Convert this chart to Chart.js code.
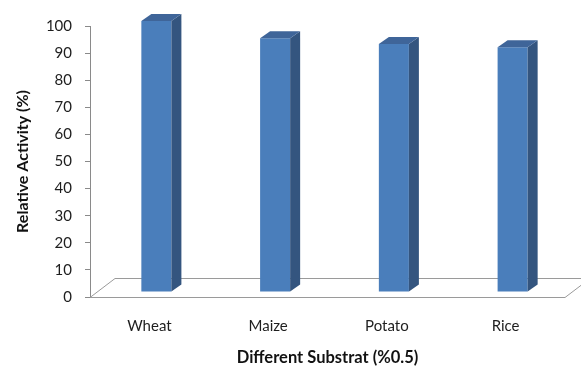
<!DOCTYPE html>
<html>
<head>
<meta charset="utf-8">
<script src="https://cdn.jsdelivr.net/npm/chart.js@4/dist/chart.umd.min.js"></script>
<style>
  html, body { margin: 0; padding: 0; background: #ffffff; }
  #wrap { width: 581px; height: 372px; }
</style>
</head>
<body>
<div id="wrap"><canvas id="chart" width="581" height="372"></canvas></div>
<script>
// Substrates tested and their relative enzyme activity
const substrates = ['Wheat', 'Maize', 'Potato', 'Rice'];
const relativeActivity = [100, 93.6, 91.5, 90.3];
const yTicks = [0, 10, 20, 30, 40, 50, 60, 70, 80, 90, 100];
const xTitle = 'Different Substrat (%0.5)';
const yTitle = 'Relative Activity (%)';

// Pseudo-3D look: columns stand inside the floor slab, faces get an oblique depth
const DEPTH = { dx: 10, dy: -7 };        // column depth
const INSET = { dx: 7, dy: -5 };         // column offset from the floor front edge
const FLOOR = { dx: 25, dy: -19 };       // floor depth
const COLORS = { front: '#4A7EBB', side: '#34557F', top: '#3F6599', floor: '#9a9a9a' };

const floorPlugin = {
  id: 'floor3d',
  beforeDatasetsDraw(chart) {
    const { ctx, chartArea, scales } = chart;
    const y0 = scales.y.getPixelForValue(0);
    const l = chartArea.left, r = chartArea.right;
    ctx.save();
    ctx.strokeStyle = COLORS.floor;
    ctx.lineWidth = 1;
    ctx.beginPath();
    ctx.moveTo(l, y0 + 0.5);
    ctx.lineTo(r, y0 + 0.5);
    ctx.lineTo(r + FLOOR.dx, y0 + FLOOR.dy + 0.5);
    ctx.lineTo(l + FLOOR.dx, y0 + FLOOR.dy + 0.5);
    ctx.closePath();
    ctx.stroke();
    ctx.restore();
    // shift the front faces back into the floor depth
    ctx.save();
    ctx.translate(INSET.dx, INSET.dy);
  },
  afterDatasetsDraw(chart) {
    const { ctx } = chart;
    ctx.restore();
    const meta = chart.getDatasetMeta(0);
    ctx.save();
    ctx.translate(INSET.dx, INSET.dy);
    meta.data.forEach((bar) => {
      const p = bar.getProps(['x', 'y', 'base', 'width'], true);
      const left = p.x - p.width / 2, right = p.x + p.width / 2;
      const top = p.y, bottom = p.base;
      // side face
      ctx.fillStyle = COLORS.side;
      ctx.beginPath();
      ctx.moveTo(right, top);
      ctx.lineTo(right + DEPTH.dx, top + DEPTH.dy);
      ctx.lineTo(right + DEPTH.dx, bottom + DEPTH.dy);
      ctx.lineTo(right, bottom);
      ctx.closePath();
      ctx.fill();
      // top face
      ctx.fillStyle = COLORS.top;
      ctx.beginPath();
      ctx.moveTo(left, top);
      ctx.lineTo(left + DEPTH.dx, top + DEPTH.dy);
      ctx.lineTo(right + DEPTH.dx, top + DEPTH.dy);
      ctx.lineTo(right, top);
      ctx.closePath();
      ctx.fill();
    });
    ctx.restore();
  }
};

const FONT = "Lato, 'Liberation Sans', sans-serif";

new Chart(document.getElementById('chart'), {
  type: 'bar',
  data: {
    labels: substrates,
    datasets: [{
      data: relativeActivity,
      backgroundColor: COLORS.front,
      borderWidth: 0,
      categoryPercentage: 1,
      barPercentage: 0.253
    }]
  },
  options: {
    responsive: false,
    animation: false,
    events: [],
    layout: { padding: { left: 0, right: 16, top: 26, bottom: 0 } },
    plugins: { legend: { display: false }, tooltip: { enabled: false } },
    scales: {
      x: {
        afterFit(scale) { scale.height = 75; },
        grid: { display: false, drawTicks: false },
        border: { display: false },
        ticks: { color: '#1e1e1e', font: { family: FONT, size: 15 }, padding: 20, maxRotation: 0 },
        title: {
          display: true, text: xTitle, color: '#111111',
          font: { family: FONT, size: 16.5, weight: 'bold' },
          padding: { top: 0, bottom: 4 }
        }
      },
      y: {
        min: 0, max: 100,
        afterFit(scale) { scale.width = 90; },
        afterBuildTicks(scale) { scale.ticks = yTicks.map(v => ({ value: v })); },
        grid: { drawOnChartArea: false, drawTicks: true, tickLength: 5, color: '#8a8a8a' },
        border: { display: true, color: '#8a8a8a', width: 1 },
        ticks: { color: '#1e1e1e', font: { family: FONT, size: 15 }, padding: 13 },
        title: {
          display: true, text: yTitle, color: '#111111',
          font: { family: FONT, size: 16, weight: 'bold' },
          padding: { top: 13, bottom: 0 }
        }
      }
    }
  },
  plugins: [floorPlugin]
});
</script>
</body>
</html>
